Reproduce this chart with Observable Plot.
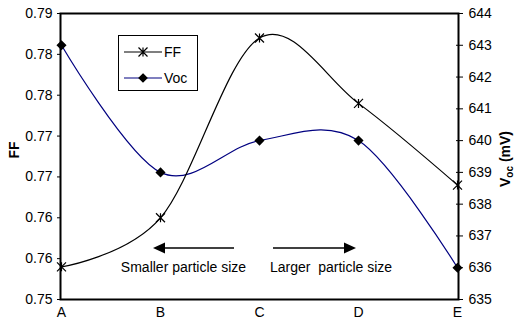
<!DOCTYPE html>
<html><head><meta charset="utf-8">
<script src="https://cdn.jsdelivr.net/npm/d3@7"></script>
<script src="https://cdn.jsdelivr.net/npm/@observablehq/plot@0.6"></script>
<style>body{margin:0;background:#fff;font-family:"Liberation Sans",Arial,sans-serif}</style>
</head><body><div id="chart"></div>
<script>
const categories = ["A","B","C","D","E"];
const ffValues = [0.754, 0.760, 0.782, 0.774, 0.764];
const vocValues = [643.0, 639.0, 640.0, 640.0, 636.0];
const ffTicks = [0.75, 0.755, 0.76, 0.765, 0.77, 0.775, 0.78, 0.785];
const ffTickLabels = ["0.75","0.76","0.76","0.77","0.77","0.78","0.78","0.79"];
const vocTicks = [635, 636, 637, 638, 639, 640, 641, 642, 643, 644];
const ffDomain = [0.75, 0.785];
const vocDomain = [635, 644];
const seriesNames = ["FF", "Voc"];
const annotations = ["Smaller particle size", "Larger  particle size"];

const toFF = v => ffDomain[0] + (v - vocDomain[0]) / (vocDomain[1] - vocDomain[0]) * (ffDomain[1] - ffDomain[0]);
const rows = categories.map((c, i) => ({cat: c, ff: ffValues[i], voc: toFF(vocValues[i])}));
const ffLabelMap = new Map(ffTicks.map((t, i) => [t, ffTickLabels[i]]));
const vocTickPos = vocTicks.map(toFF);
const vocLabelMap = new Map(vocTickPos.map((t, i) => [t, String(vocTicks[i])]));
const font = "Liberation Sans, Arial, sans-serif";

// Excel-style star marker: X with a vertical bar
const starSymbol = {
  draw(ctx, size) {
    const r = Math.sqrt(size / Math.PI);
    ctx.moveTo(-r, -r); ctx.lineTo(r, r);
    ctx.moveTo(-r, r); ctx.lineTo(r, -r);
    ctx.moveTo(0, -r); ctx.lineTo(0, r);
  }
};

const chart = Plot.plot({
  width: 516, height: 325,
  marginTop: 13, marginBottom: 26, marginLeft: 60, marginRight: 58,
  style: {fontFamily: font, fontSize: "14px", color: "black", background: "white"},
  x: {type: "point", domain: categories, padding: 0},
  y: {domain: ffDomain},
  marks: [
    Plot.axisX({tickSize: 0, tickPadding: 8, label: null, fontSize: 14}),
    Plot.axisY(ffTicks, {tickFormat: d => ffLabelMap.get(d), tickSize: 3, tickPadding: 5, label: null, fontSize: 14}),
    Plot.axisY(vocTickPos, {anchor: "right", tickFormat: d => vocLabelMap.get(d), tickSize: 4, tickPadding: 6, label: null, fontSize: 14}),
    Plot.axisY(vocTickPos, {anchor: "right", tickFormat: () => "", tickSize: 3, dx: -3, label: null}),
    Plot.line(rows, {x: "cat", y: "voc", curve: "cardinal", stroke: "#000080", strokeWidth: 1.2}),
    Plot.line(rows, {x: "cat", y: "ff", curve: "cardinal", stroke: "black", strokeWidth: 1.2}),
    Plot.dot(rows, {x: "cat", y: "voc", symbol: "diamond2", r: 3.6, fill: "black", stroke: "black"}),
    Plot.dot(rows, {x: "cat", y: "ff", symbol: starSymbol, r: 4.5, stroke: "black", strokeWidth: 1.2}),
    Plot.frame({stroke: "black", strokeWidth: 2})
  ]
});
document.getElementById("chart").appendChild(chart);

const svg = d3.select(chart);
const g = svg.append("g").attr("font-family", font).attr("font-size", 14).attr("fill", "black")
  .attr("text-anchor", "start");

// axis titles
g.append("text").attr("transform", "translate(19,150) rotate(-90)").attr("text-anchor", "middle")
  .attr("font-weight", "bold").text("FF");
const vt = g.append("text").attr("transform", "translate(510,159) rotate(-90)").attr("text-anchor", "middle")
  .attr("font-weight", "bold");
vt.append("tspan").text("V");
vt.append("tspan").attr("font-size", 10).attr("dy", 3).text("oc");
vt.append("tspan").attr("dy", -3).text(" (mV)");

// legend
const lg = g.append("g");
lg.append("rect").attr("x", 118.5).attr("y", 35.5).attr("width", 79).attr("height", 55)
  .attr("fill", "white").attr("stroke", "black").attr("stroke-width", 1);
const legendY = [52, 78];
const legendColors = ["black", "#000080"];
seriesNames.forEach((name, i) => {
  lg.append("line").attr("x1", 124).attr("x2", 162).attr("y1", legendY[i]).attr("y2", legendY[i])
    .attr("stroke", legendColors[i]).attr("stroke-width", 1.2);
  const sym = i === 0 ? starSymbol : d3.symbolDiamond2;
  lg.append("path").attr("d", d3.symbol(sym, i === 0 ? 4.5 * 4.5 * Math.PI : 3.6 * 3.6 * Math.PI)())
    .attr("transform", `translate(143,${legendY[i]})`)
    .attr("fill", i === 0 ? "none" : "black").attr("stroke", "black").attr("stroke-width", 1.2);
  lg.append("text").attr("x", 164).attr("y", legendY[i]).attr("dy", "0.35em").attr("text-anchor", "start").text(name);
});

// arrows
const ay = 248;
g.append("line").attr("x1", 234).attr("x2", 163).attr("y1", ay).attr("y2", ay).attr("stroke", "black").attr("stroke-width", 1.4);
g.append("path").attr("d", `M153,${ay}L165,${ay - 5.5}L165,${ay + 5.5}Z`).attr("fill", "black");
g.append("line").attr("x1", 273).attr("x2", 346).attr("y1", ay).attr("y2", ay).attr("stroke", "black").attr("stroke-width", 1.4);
g.append("path").attr("d", `M356,${ay}L344,${ay - 5.5}L344,${ay + 5.5}Z`).attr("fill", "black");
g.append("text").attr("x", 183.5).attr("y", 272).attr("text-anchor", "middle").text(annotations[0]);
g.append("text").attr("x", 331).attr("y", 272).attr("text-anchor", "middle").attr("xml:space", "preserve")
  .style("white-space", "pre").text(annotations[1]);
</script>
</body></html>
